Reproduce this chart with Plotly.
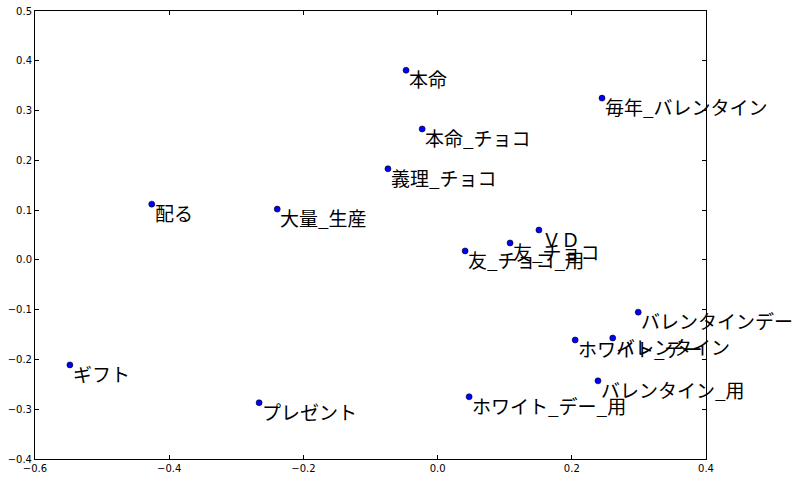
import plotly.graph_objects as go

words = ["本命", "毎年_バレンタイン", "本命_チョコ", "義理_チョコ", "配る", "大量_生産",
         "ＶＤ", "友_チョコ", "友_チョコ_用", "バレンタインデー", "バレンタイン",
         "ホワイト_デー", "ギフト", "バレンタイン_用", "プレゼント", "ホワイト_デー_用"]
xs = [-0.047, 0.245, -0.023, -0.074, -0.426, -0.239, 0.151, 0.108, 0.041,
      0.299, 0.261, 0.205, -0.548, 0.239, -0.266, 0.047]
ys = [0.381, 0.325, 0.263, 0.183, 0.112, 0.102, 0.060, 0.034, 0.018,
      -0.105, -0.157, -0.161, -0.211, -0.243, -0.287, -0.275]

fig = go.Figure()
fig.add_trace(go.Scatter(
    x=xs, y=ys, mode="markers",
    marker=dict(size=6, color="#0000ff", line=dict(color="black", width=0.6)),
    cliponaxis=False, hoverinfo="skip", showlegend=False))

for w, x, y in zip(words, xs, ys):
    fig.add_annotation(x=x, y=y, text=w, showarrow=False, xanchor="left", yanchor="top",
                       xshift=1, yshift=7,
                       font=dict(family="Noto Sans CJK JP", size=19, color="black"))

axis_common = dict(showgrid=False, zeroline=False, showline=True, linecolor="black",
                   linewidth=1, mirror="ticks", ticks="inside", ticklen=4, automargin=False,
                   tickcolor="black", tickfont=dict(family="DejaVu Sans", size=10, color="black"))
fig.update_xaxes(range=[-0.6, 0.4], dtick=0.2, tick0=-0.6, tickformat=".1f", **axis_common)
fig.update_yaxes(range=[-0.4, 0.5], dtick=0.1, tick0=-0.4, tickformat=".1f", **axis_common)

fig.update_layout(width=806, height=479, margin=dict(l=35, r=100, t=11, b=20),
                  plot_bgcolor="white", paper_bgcolor="white")
fig.write_html("out.html", config={"displayModeBar": False},
               post_script="document.body.style.margin='0';")
